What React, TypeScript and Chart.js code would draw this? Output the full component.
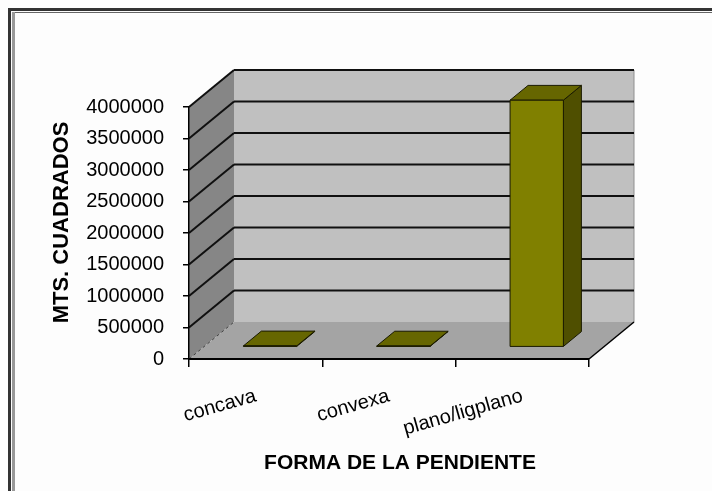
import React, { useEffect, useRef } from 'react';
import { Chart, registerables } from 'chart.js';

Chart.register(...registerables);

// ---- data ----
const categories: string[] = ['concava', 'convexa', 'plano/ligplano'];
const areaValues: number[] = [20000, 18000, 3920000];
const yMin = 0;
const yMax = 4000000;
const yStep = 500000;
const yTickValues: number[] = [0, 500000, 1000000, 1500000, 2000000, 2500000, 3000000, 3500000, 4000000];
const xAxisTitle = 'FORMA DE LA PENDIENTE';
const yAxisTitle = 'MTS. CUADRADOS';

// ---- 3D look (styles) ----
const DEPTH_DX = 45;
const DEPTH_DY = -37;
const BAR_FRONT = 0.32;
const BAR_BACK = 0.72;
const FONT = 'Arial, "Liberation Sans", sans-serif';

function poly(ctx: CanvasRenderingContext2D, pts: number[][], fill: string, stroke?: string, lw = 1) {
  ctx.beginPath();
  ctx.moveTo(pts[0][0], pts[0][1]);
  for (let i = 1; i < pts.length; i++) ctx.lineTo(pts[i][0], pts[i][1]);
  ctx.closePath();
  ctx.fillStyle = fill;
  ctx.fill();
  if (stroke) {
    ctx.strokeStyle = stroke;
    ctx.lineWidth = lw;
    ctx.stroke();
  }
}

function line(ctx: CanvasRenderingContext2D, x1: number, y1: number, x2: number, y2: number, color: string, lw: number) {
  ctx.beginPath();
  ctx.moveTo(x1, y1);
  ctx.lineTo(x2, y2);
  ctx.strokeStyle = color;
  ctx.lineWidth = lw;
  ctx.stroke();
}

const threeDPlugin = {
  id: 'threeD',
  beforeDraw(chart: any) {
    const ctx: CanvasRenderingContext2D = chart.ctx;
    const { left: L, right: R, top: T, bottom: B } = chart.chartArea;
    const ys = chart.scales.y;
    const dx = DEPTH_DX, dy = DEPTH_DY;
    ctx.save();
    // page background and frame
    ctx.fillStyle = '#fdfdfd';
    ctx.fillRect(0, 0, chart.width, chart.height);
    ctx.fillStyle = '#333333';
    ctx.fillRect(8, 8, chart.width - 8, 3);
    ctx.fillRect(8, 8, 3, chart.height - 8);
    ctx.fillStyle = '#666666';
    ctx.fillRect(12, 12, chart.width - 12, 1);
    ctx.fillStyle = '#999999';
    ctx.fillRect(12, 12, 3, chart.height - 12);

    // back wall
    ctx.fillStyle = '#c0c0c0';
    ctx.fillRect(L + dx, T + dy, R - L, B - T);
    line(ctx, R + dx, T + dy, R + dx, B + dy, '#909090', 1);
    // left wall
    poly(ctx, [[L, T], [L + dx, T + dy], [L + dx, B + dy], [L, B]], '#868686');
    // floor
    poly(ctx, [[L, B], [R, B], [R + dx, B + dy], [L + dx, B + dy]], '#a4a4a4');

    // gridlines on walls
    yTickValues.forEach((v) => {
      if (v <= yMin) return;
      const py = ys.getPixelForValue(v);
      line(ctx, L, py, L + dx, py + dy, '#101010', 2);
      line(ctx, L + dx, py + dy, R + dx, py + dy, '#101010', 2);
    });
    // hidden edge (dashed)
    ctx.setLineDash([3, 3]);
    line(ctx, L, B, L + dx, B + dy, '#404040', 1);
    ctx.setLineDash([]);
    // floor right edge
    line(ctx, R, B, R + dx, B + dy, '#000000', 1.5);
    ctx.restore();
  },
  afterDatasetsDraw(chart: any) {
    const ctx: CanvasRenderingContext2D = chart.ctx;
    const meta = chart.getDatasetMeta(0);
    const dx = DEPTH_DX, dy = DEPTH_DY;
    const ddx = (BAR_BACK - BAR_FRONT) * dx;
    const ddy = (BAR_BACK - BAR_FRONT) * dy;
    ctx.save();
    ctx.lineJoin = 'round';
    meta.data.forEach((el: any) => {
      const { x, y, base, width } = el.getProps(['x', 'y', 'base', 'width'], true);
      const xl = x - width / 2 + BAR_FRONT * dx;
      const xr = xl + width;
      const top = y + BAR_FRONT * dy;
      const bot = base + BAR_FRONT * dy;
      poly(ctx, [[xr, top], [xr + ddx, top + ddy], [xr + ddx, bot + ddy], [xr, bot]], '#4f4f00', '#1a1a00', 1);
      poly(ctx, [[xl, top], [xr, top], [xr + ddx, top + ddy], [xl + ddx, top + ddy]], '#666600', '#1a1a00', 1);
      poly(ctx, [[xl, top], [xr, top], [xr, bot], [xl, bot]], '#808000', '#1a1a00', 1);
    });
    ctx.restore();
  },
  afterDraw(chart: any) {
    const ctx: CanvasRenderingContext2D = chart.ctx;
    const { left: L, right: R, top: T, bottom: B } = chart.chartArea;
    ctx.save();
    ctx.fillStyle = '#000000';
    ctx.textAlign = 'center';
    ctx.textBaseline = 'middle';
    // y title
    ctx.font = `bold 22px ${FONT}`;
    ctx.translate(L - 127.5, (T + B) / 2 - 10.5);
    ctx.rotate(-Math.PI / 2);
    ctx.fillText(yAxisTitle, 0, 0);
    ctx.setTransform(1, 0, 0, 1, 0, 0);
    // x title
    ctx.font = `bold 21px ${FONT}`;
    ctx.fillText(xAxisTitle, (L + R) / 2 + 11, B + 104);
    ctx.restore();
  },
};

export default function App() {
  const canvasRef = useRef<HTMLCanvasElement | null>(null);

  useEffect(() => {
    if (!canvasRef.current) return;
    const chart = new Chart(canvasRef.current, {
      type: 'bar',
      data: {
        labels: categories,
        datasets: [
          {
            label: yAxisTitle,
            data: areaValues,
            backgroundColor: 'rgba(0,0,0,0)',
            borderWidth: 0,
            categoryPercentage: 1,
            barPercentage: 0.4,
          },
        ],
      },
      options: {
        responsive: false,
        animation: false,
        devicePixelRatio: 1,
        layout: { padding: { left: 0, top: 107, right: 123, bottom: 0 } },
        plugins: {
          legend: { display: false },
          tooltip: { enabled: false },
          title: { display: false },
        },
        scales: {
          x: {
            offset: true,
            grid: {
              display: true,
              drawOnChartArea: false,
              drawTicks: true,
              tickLength: 8,
              offset: true,
              color: '#000000',
              lineWidth: 1.5,
            },
            border: { display: true, color: '#000000', width: 2 },
            ticks: {
              autoSkip: false,
              minRotation: 16,
              maxRotation: 16,
              padding: 17,
              color: '#000000',
              font: { family: FONT, size: 20 },
            },
            title: { display: false, text: xAxisTitle },
            afterFit: (s: any) => {
              s.height = 132;
            },
          },
          y: {
            min: yMin,
            max: yMax,
            grid: {
              display: true,
              drawOnChartArea: false,
              drawTicks: true,
              tickLength: 6,
              color: '#000000',
              lineWidth: 1.5,
            },
            border: { display: true, color: '#000000', width: 1.5 },
            ticks: {
              stepSize: yStep,
              padding: 19,
              color: '#000000',
              font: { family: FONT, size: 20 },
              callback: (v: any) => String(v),
            },
            title: { display: false, text: yAxisTitle },
            afterFit: (s: any) => {
              s.width = 189;
            },
          },
        },
      },
      plugins: [threeDPlugin],
    });
    return () => chart.destroy();
  }, []);

  return (
    <div style={{ position: 'absolute', left: 0, top: 0, width: 712, height: 491 }}>
      <canvas ref={canvasRef} width={712} height={491} style={{ display: 'block' }} />
    </div>
  );
}
